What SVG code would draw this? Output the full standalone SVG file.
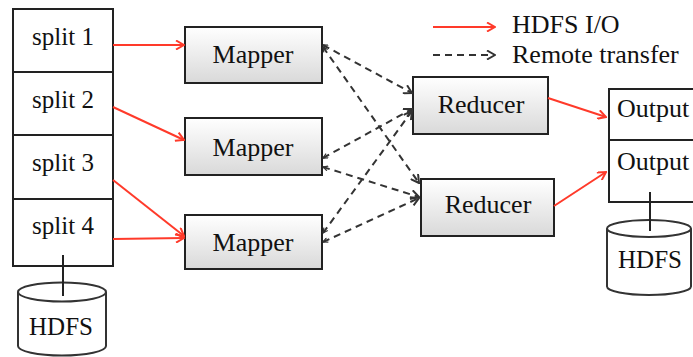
<svg xmlns="http://www.w3.org/2000/svg" width="693" height="357" viewBox="0 0 693 357">
<style>
text{font-family:"Liberation Serif","Times New Roman",serif;fill:#111;}
.t{font-size:26px;}
.s{font-size:25px;}
.box{fill:#fff;stroke:#222;stroke-width:2;}
.gbox{fill:url(#g);stroke:#222;stroke-width:2;}
.red{stroke:#ff3a2a;stroke-width:2;fill:none;marker-end:url(#ar);}
.dash{stroke:#333;stroke-width:2;fill:none;stroke-dasharray:7 5;marker-end:url(#ad);marker-start:url(#as);}
.cyl{fill:#fff;stroke:#333;stroke-width:2;}
.ln{stroke:#222;stroke-width:2;}
</style>
<defs>
<linearGradient id="g" x1="0" y1="0" x2="0" y2="1">
<stop offset="0" stop-color="#ffffff"/>
<stop offset="1" stop-color="#d9d9d9"/>
</linearGradient>
<marker id="ar" viewBox="0 0 10 10" refX="9" refY="5" markerWidth="10" markerHeight="10" markerUnits="userSpaceOnUse" orient="auto">
<path d="M1,0.5 L9,5 L1,9.5" fill="none" stroke="#ff3a2a" stroke-width="2"/>
</marker>
<marker id="ad" viewBox="0 0 10 10" refX="9" refY="5" markerWidth="10" markerHeight="10" markerUnits="userSpaceOnUse" orient="auto">
<path d="M1,0.5 L9,5 L1,9.5" fill="none" stroke="#333" stroke-width="2"/>
</marker>
<marker id="as" viewBox="0 0 10 10" refX="1" refY="5" markerWidth="6" markerHeight="6" markerUnits="userSpaceOnUse" orient="auto">
<path d="M9,1 L1,5 L9,9" fill="none" stroke="#333" stroke-width="2"/>
</marker>
</defs>

<g id="legend">
<line x1="433" y1="27" x2="495" y2="27" class="red"/>
<text x="512" y="33" class="t">HDFS I/O</text>
<line x1="433" y1="55" x2="495" y2="55" class="dash" style="marker-start:none"/>
<text x="512" y="63" class="t">Remote transfer</text>
</g>

<g id="splits">
<g id="split1"><rect x="13" y="9" width="100" height="63" class="box"/><text x="63" y="45" class="s" text-anchor="middle">split 1</text></g>
<g id="split2"><rect x="13" y="72" width="100" height="63" class="box"/><text x="63" y="108" class="s" text-anchor="middle">split 2</text></g>
<g id="split3"><rect x="13" y="135" width="100" height="64" class="box"/><text x="63" y="171" class="s" text-anchor="middle">split 3</text></g>
<g id="split4"><rect x="13" y="199" width="100" height="67" class="box"/><text x="63" y="234" class="s" text-anchor="middle">split 4</text></g>
</g>

<g id="hdfs-in">
<path d="M18,292 L18,346 A44,9.5 0 0 0 106,346 L106,292" class="cyl"/>
<ellipse cx="62" cy="292" rx="44" ry="9.5" class="cyl"/>
<line x1="63" y1="255" x2="63" y2="296" class="ln"/>
<text x="61" y="335" class="s" text-anchor="middle">HDFS</text>
</g>

<g id="mapper1"><rect x="185" y="27" width="137" height="56" class="gbox"/><text x="253" y="63" class="t" text-anchor="middle">Mapper</text></g>
<g id="mapper2"><rect x="185" y="118" width="137" height="57" class="gbox"/><text x="253" y="156" class="t" text-anchor="middle">Mapper</text></g>
<g id="mapper3"><rect x="185" y="215" width="137" height="54" class="gbox"/><text x="253" y="251" class="t" text-anchor="middle">Mapper</text></g>

<g id="reducer1"><rect x="413" y="77" width="135" height="57" class="gbox"/><text x="481" y="113" class="t" text-anchor="middle">Reducer</text></g>
<g id="reducer2"><rect x="421" y="179" width="133" height="57" class="gbox"/><text x="488" y="213" class="t" text-anchor="middle">Reducer</text></g>

<g id="outputs">
<g id="output1"><rect x="609" y="89" width="100" height="51" class="box"/><text x="617" y="117" class="t">Output</text></g>
<g id="output2"><rect x="609" y="140" width="100" height="62" class="box"/><text x="617" y="170" class="t">Output</text></g>
</g>

<g id="hdfs-out">
<path d="M607,228.5 L607,286.5 A42,8.5 0 0 0 691,286.5 L691,228.5" class="cyl"/>
<ellipse cx="649" cy="228.5" rx="42" ry="8.5" class="cyl"/>
<line x1="650" y1="192" x2="650" y2="231" class="ln"/>
<text x="650" y="268" class="s" text-anchor="middle">HDFS</text>
</g>

<g id="connectors">
<line x1="113" y1="45" x2="184" y2="45" class="red"/>
<line x1="113" y1="107" x2="184" y2="140" class="red"/>
<line x1="113" y1="180" x2="184" y2="236" class="red"/>
<line x1="113" y1="239" x2="184" y2="238" class="red"/>
<line x1="548" y1="98" x2="606" y2="117" class="red"/>
<line x1="554" y1="206" x2="606" y2="172" class="red"/>
<line x1="323" y1="45" x2="412" y2="93" class="dash"/>
<line x1="323" y1="47" x2="419" y2="183" class="dash"/>
<line x1="323" y1="158" x2="412" y2="109" class="dash"/>
<line x1="323" y1="167" x2="419" y2="197" class="dash"/>
<line x1="323" y1="233" x2="412" y2="111" class="dash"/>
<line x1="323" y1="242" x2="419" y2="198" class="dash"/>
</g>
</svg>
